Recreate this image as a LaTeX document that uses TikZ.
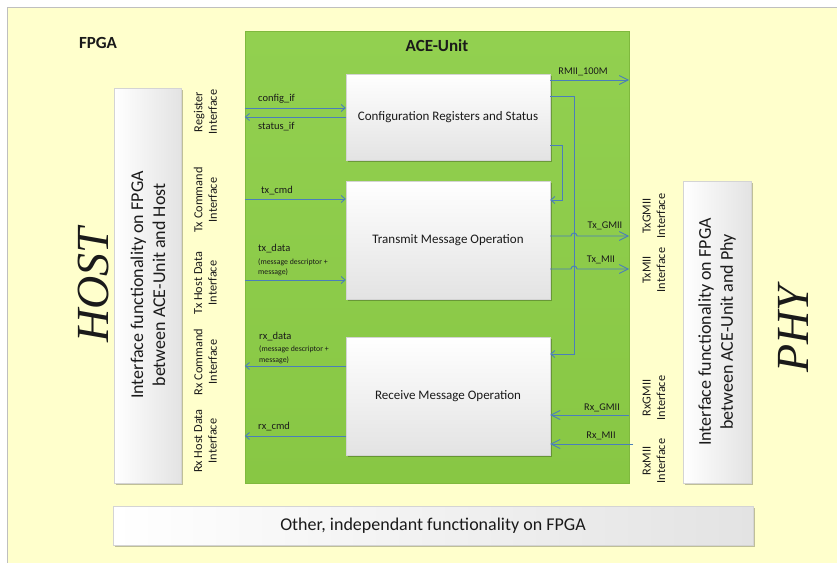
\documentclass[tikz,border=0pt]{standalone}
\usepackage{fontspec}
\setmainfont{Carlito}
\newfontfamily\bigserif{Liberation Serif}
\usetikzlibrary{arrows.meta,shadows}

\definecolor{fpgabg}{HTML}{FFFFCC}
\definecolor{fpgaframe}{HTML}{BFBFBF}
\definecolor{acetop}{HTML}{92D050}
\definecolor{acebot}{HTML}{88C744}
\definecolor{aceedge}{HTML}{7FB93E}
\definecolor{wire}{HTML}{4A7EBB}
\definecolor{boxedge}{HTML}{D4D4D4}
\definecolor{boxgray}{HTML}{E3E3E3}
\definecolor{ink}{HTML}{1A1A1A}

\begin{document}
\begin{tikzpicture}[x=1pt,y=-1pt,
  every node/.style={text=ink, inner sep=0pt},
  softshadow/.style={drop shadow={shadow xshift=1.5pt,shadow yshift=-1.5pt,opacity=0.25,fill=black}},
  opbox/.style={draw=boxedge, top color=white, bottom color=boxgray, softshadow,
    minimum width=204pt, font=\fontsize{13}{15}\selectfont},
  sidebox/.style={draw=boxedge, left color=white, right color=boxgray, softshadow},
  iflabel/.style={rotate=90, align=center, font=\fontsize{12.3}{14.5}\selectfont},
  sidetext/.style={rotate=90, align=center, font=\fontsize{18}{22}\selectfont},
  sig/.style={font=\fontsize{10.5}{12}\selectfont, anchor=west},
  rsig/.style={font=\fontsize{10.3}{12}\selectfont},
  note/.style={font=\fontsize{7.8}{9}\selectfont, anchor=west},
  title/.style={font=\bfseries\fontsize{17}{20}\selectfont},
  wire/.style={draw=wire, line width=0.9pt},
  arr/.style={wire, -{Straight Barb[length=4pt,width=7pt]}},
  bigarr/.style={wire, -{Straight Barb[length=9pt,width=9pt]}},
  bigtitle/.style={rotate=90, anchor=base, font=\bigserif\itshape\fontsize{46}{50}\selectfont}
]
\clip (0,0) rectangle (837,562);
\fill[white] (0,0) rectangle (837,562);

% FPGA frame
\node[draw=fpgaframe, fill=fpgabg, anchor=north west, minimum width=840pt, minimum height=565pt] (fpga) at (7,7) {};
\node[title] (fpgatitle) at (98,43) {FPGA};

% ACE unit
\node[draw=aceedge, line width=0.4pt, top color=acetop, bottom color=acebot,
      minimum width=384pt, minimum height=452pt] (ace) at (437,257) {};
\node[title] (acetitle) at (437,46) {ACE-Unit};

\node[opbox, minimum height=86pt]  (cfg) at (448,117) {Configuration Registers and Status};
\node[opbox, minimum height=118pt] (trn) at (448,240) {Transmit Message Operation};
\node[opbox, minimum height=118pt] (rcv) at (448,396) {Receive Message Operation};

% host side
\node[sidebox, minimum width=67pt, minimum height=395pt] (hostif) at (147.5,285.5) {};
\node[sidetext] (hosttext) at (148,285) {Interface functionality on FPGA\\between ACE-Unit and Host};
\node[bigtitle] (host) at (108,285) {HOST};

% phy side
\node[sidebox, minimum width=68pt, minimum height=302pt] (phyif) at (717,332) {};
\node[sidetext] (phytext) at (717,332) {Interface functionality on FPGA\\between ACE-Unit and Phy};
\node[bigtitle] (phy) at (808,329) {PHY};

% other functionality
\node[sidebox, minimum width=640pt, minimum height=39pt, font=\fontsize{18}{22}\selectfont]
  (other) at (433,525.5) {Other, independant functionality on FPGA};

% host interface labels
\node[iflabel] (ifreg)  at (205.5,112) {Register\\Interface};
\node[iflabel] (iftxc)  at (205.5,200) {Tx Command\\Interface};
\node[iflabel] (iftxd)  at (205.5,283) {Tx Host Data\\Interface};
\node[iflabel] (ifrxc)  at (205.5,362) {Rx Command\\Interface};
\node[iflabel] (ifrxd)  at (205.5,441) {Rx Host Data\\Interface};

% phy interface labels
\node[iflabel] (iftxg)  at (654,216) {TxGMII\\Interface};
\node[iflabel] (iftxm)  at (654,270) {TxMII\\Interface};
\node[iflabel] (ifrxg)  at (654,398) {RxGMII\\Interface};
\node[iflabel] (ifrxm)  at (654,461) {RxMII\\Interface};

% host-side signals
\draw[arr] (ace.west |- 0,108) -- (cfg.west |- 0,108);
\draw[arr] (cfg.west |- 0,117) -- (ace.west |- 0,117);
\draw[arr] (ace.west |- 0,199) -- (trn.west |- 0,199);
\draw[arr] (ace.west |- 0,280) -- (trn.west |- 0,280);
\draw[arr] (rcv.west |- 0,366) -- (ace.west |- 0,366);
\draw[arr] (rcv.west |- 0,436) -- (ace.west |- 0,436);

\node[sig] (lcfg) at (258,99) {config\_if};
\node[sig] (lsts) at (258,127) {status\_if};
\node[sig] (ltxc) at (261,191) {tx\_cmd};
\node[sig] (ltxd) at (258,249) {tx\_data};
\node[note] (ltxd1) at (258,262) {(message descriptor +};
\node[note] (ltxd2) at (258,272) {message)};
\node[sig] (lrxd) at (259,337) {rx\_data};
\node[note] (lrxd1) at (259,349) {(message descriptor +};
\node[note] (lrxd2) at (259,360) {message)};
\node[sig] (lrxc) at (258,427) {rx\_cmd};

% internal configuration paths
\draw[arr] (cfg.east |- 0,145) -| (562,200) -- (trn.east |- 0,200);
\draw[arr] (cfg.east |- 0,96) -| (574,354) -- (rcv.east |- 0,354);

% phy-side signals
\coordinate (rxmiiin) at (633,444);
\draw[bigarr] (cfg.east |- 0,80) -- (ace.east |- 0,80);
\draw[bigarr] (trn.east |- 0,236) -- (571,236) arc[start angle=180,end angle=360,radius=3] -- (ace.east |- 0,236);
\draw[bigarr] (trn.east |- 0,269) -- (571,269) arc[start angle=180,end angle=360,radius=3] -- (ace.east |- 0,269);
\draw[bigarr] (ace.east |- 0,415) -- (rcv.east |- 0,415);
\draw[bigarr] (rxmiiin) -- (rcv.east |- 0,444);

\node[rsig] (lrmii) at (583,72) {RMII\_100M};
\node[rsig] (ltxg) at (605,226) {Tx\_GMII};
\node[rsig] (ltxm) at (601,260) {Tx\_MII};
\node[rsig] (lrxg) at (602,408) {Rx\_GMII};
\node[rsig] (lrxm) at (601,436) {Rx\_MII};
\end{tikzpicture}
\end{document}
